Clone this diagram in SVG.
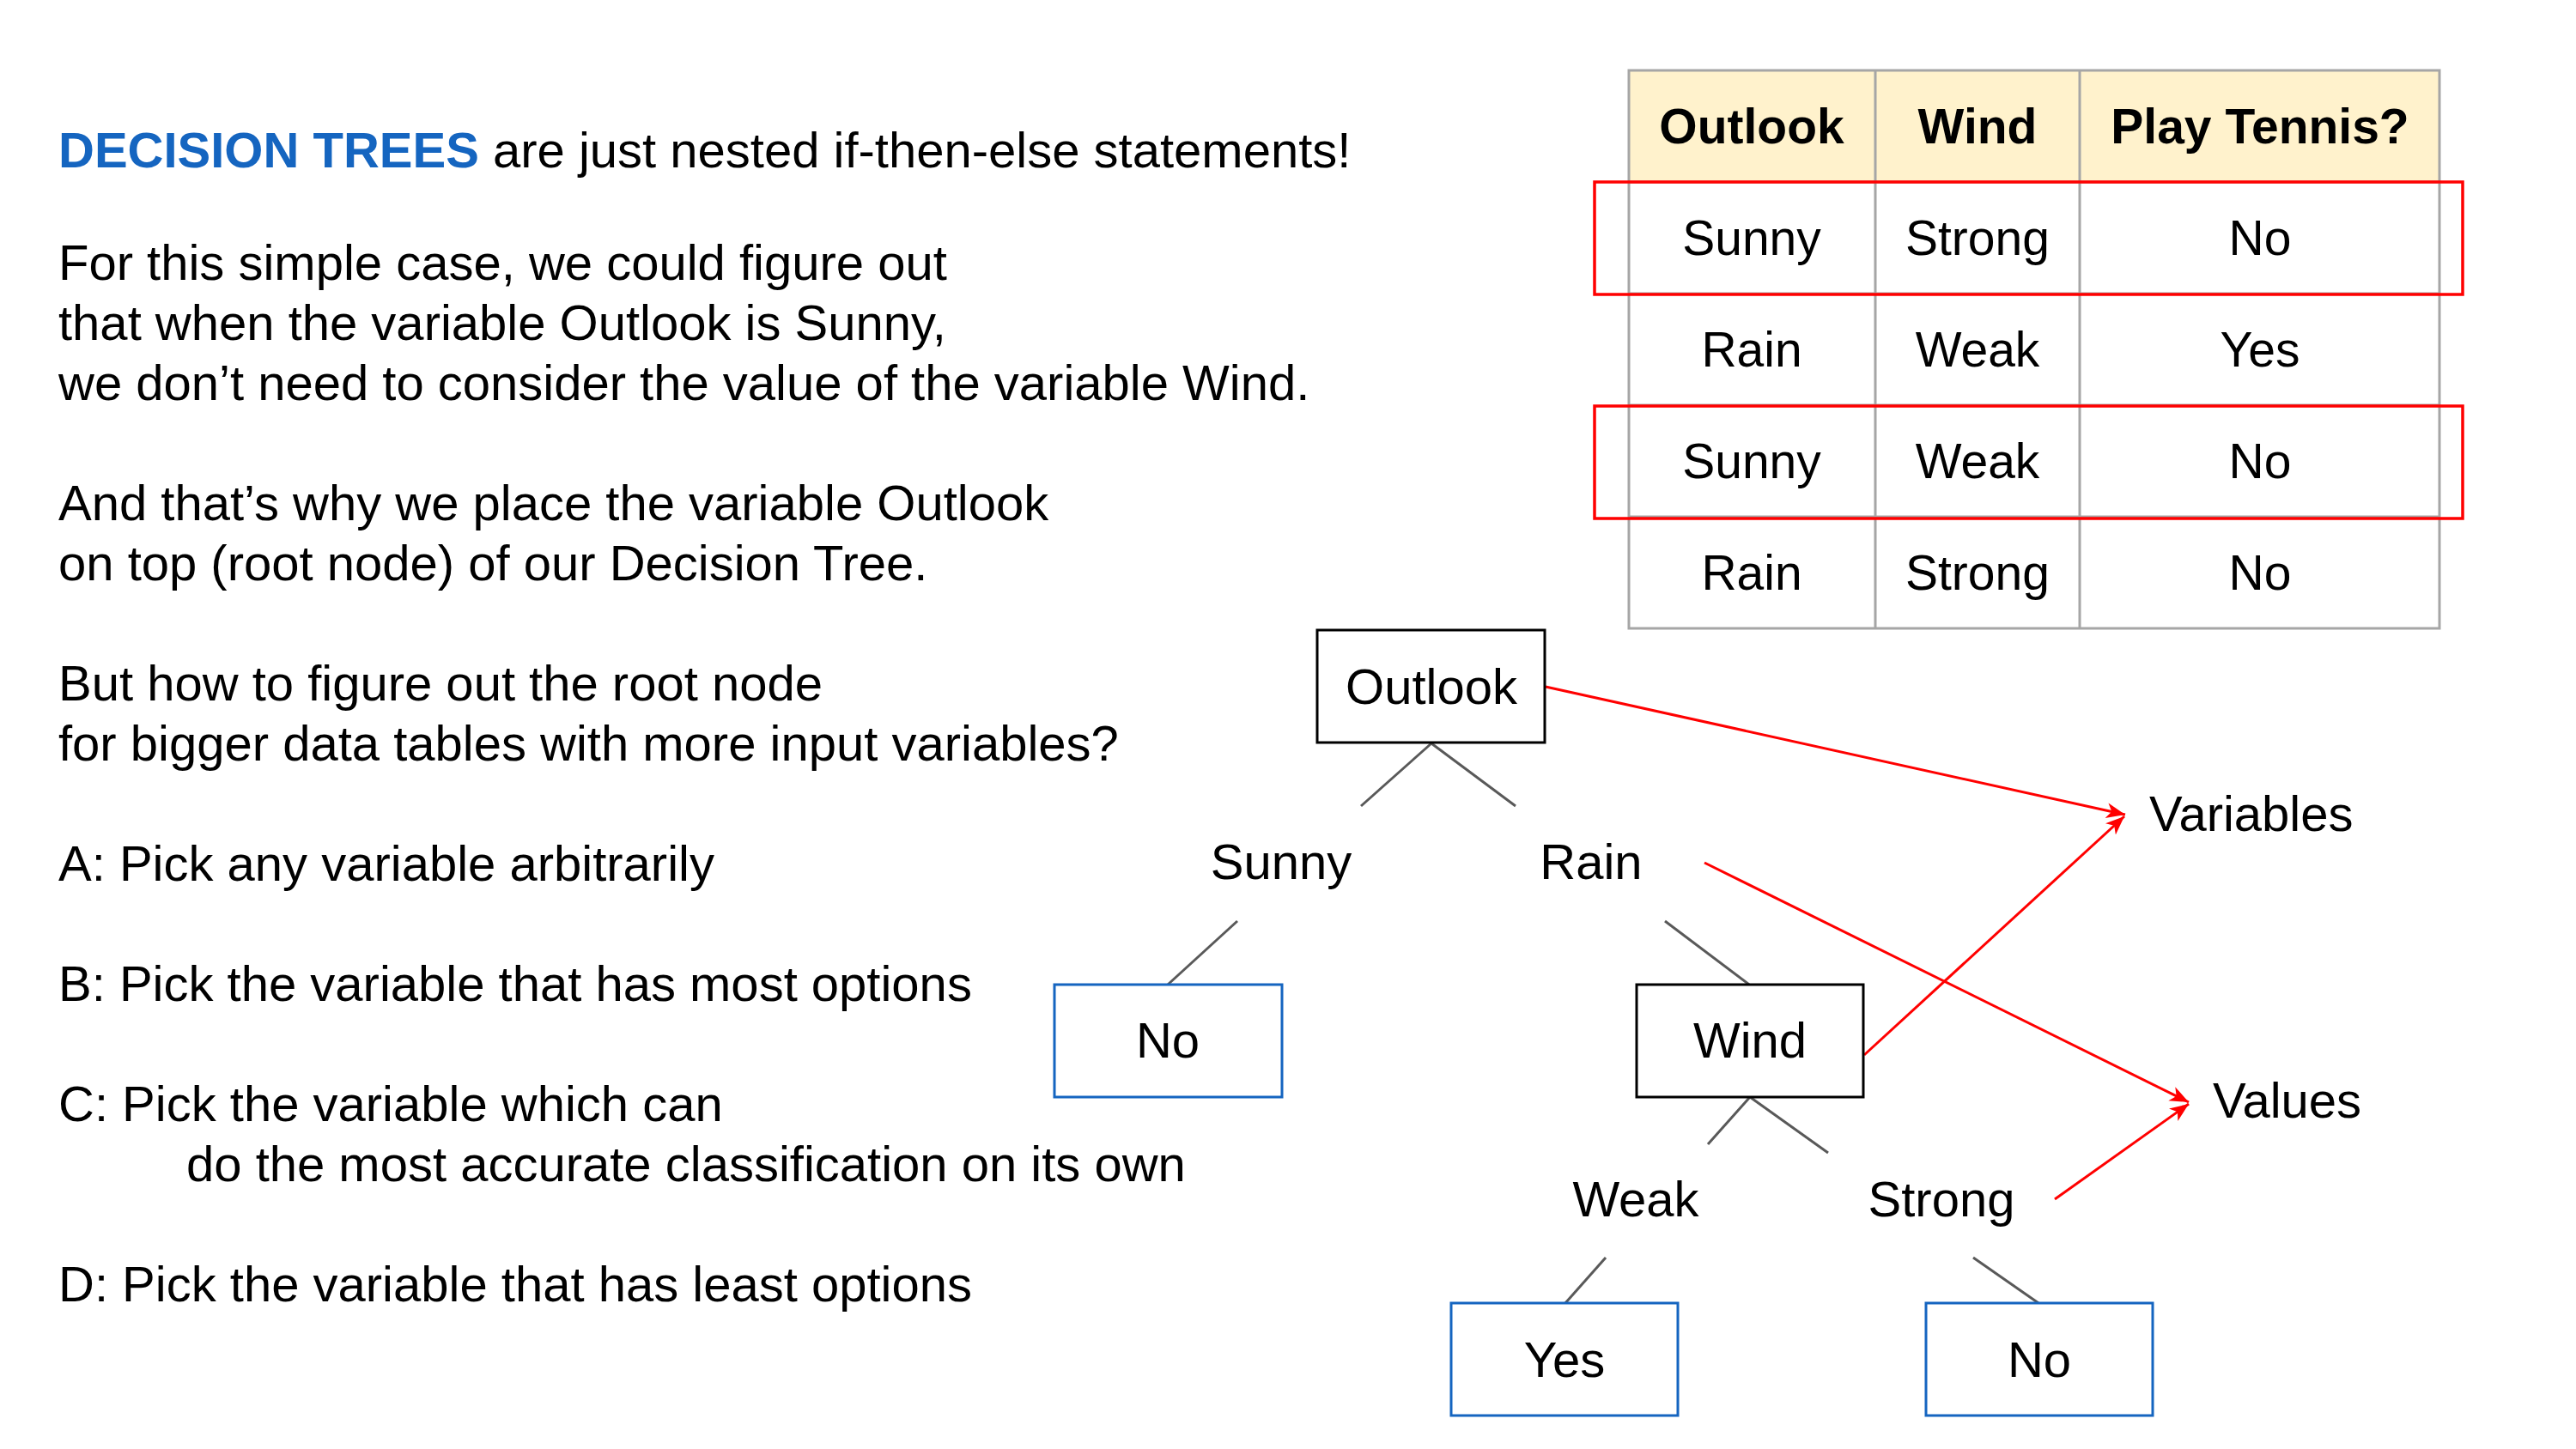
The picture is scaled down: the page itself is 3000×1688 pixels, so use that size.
<svg xmlns="http://www.w3.org/2000/svg" width="3000" height="1688" viewBox="0 0 3000 1688">
<style>
text{font-family:"Liberation Sans",Arial,sans-serif;fill:#000}
.body{font-size:58px}
.tb{font-size:57px;text-anchor:middle}
.th{font-size:57px;font-weight:bold;text-anchor:middle}
.lbl{font-size:58px;text-anchor:middle}
.blk{fill:#fff;stroke:#000;stroke-width:3}
.leaf{fill:#fff;stroke:#1565c0;stroke-width:3}
.edge{stroke:#595959;stroke-width:3;fill:none}
.red{stroke:#ff0000;stroke-width:3;fill:none}
.grid{stroke:#a6a6a6;stroke-width:3;fill:none}
.hl{stroke:#ff0000;stroke-width:3.5;fill:none}
</style>
<defs>
<marker id="ah" markerUnits="userSpaceOnUse" markerWidth="24" markerHeight="20" refX="22" refY="9" orient="auto">
<path d="M0,0 L22,9 L0,18 L6,9 z" fill="#ff0000"/>
</marker>
</defs>
<rect width="3000" height="1688" fill="#fff"/>

<g id="intro-text" class="body">
<text x="68" y="195"><tspan font-weight="bold" fill="#1565c0">DECISION TREES</tspan> are just nested if-then-else statements!</text>
<text x="68" y="326">For this simple case, we could figure out</text>
<text x="68" y="396">that when the variable Outlook is Sunny,</text>
<text x="68" y="466">we don’t need to consider the value of the variable Wind.</text>
<text x="68" y="606">And that’s why we place the variable Outlook</text>
<text x="68" y="676">on top (root node) of our Decision Tree.</text>
<text x="68" y="816">But how to figure out the root node</text>
<text x="68" y="886">for bigger data tables with more input variables?</text>
<text x="68" y="1026">A: Pick any variable arbitrarily</text>
<text x="68" y="1166">B: Pick the variable that has most options</text>
<text x="68" y="1306">C: Pick the variable which can</text>
<text x="217" y="1376">do the most accurate classification on its own</text>
<text x="68" y="1516">D: Pick the variable that has least options</text>
</g>

<g id="table">
<rect x="1897" y="82" width="944" height="130" fill="#fff2cc"/>
<rect x="1897" y="82" width="944" height="650" class="grid"/>
<line x1="2184" y1="82" x2="2184" y2="732" class="grid"/>
<line x1="2422" y1="82" x2="2422" y2="732" class="grid"/>
<line x1="1897" y1="212" x2="2841" y2="212" class="grid"/>
<line x1="1897" y1="342" x2="2841" y2="342" class="grid"/>
<line x1="1897" y1="472" x2="2841" y2="472" class="grid"/>
<line x1="1897" y1="602" x2="2841" y2="602" class="grid"/>
<text x="2040" y="167" class="th">Outlook</text>
<text x="2303" y="167" class="th">Wind</text>
<text x="2632" y="167" class="th">Play Tennis?</text>
<text x="2040" y="297" class="tb">Sunny</text>
<text x="2303" y="297" class="tb">Strong</text>
<text x="2632" y="297" class="tb">No</text>
<text x="2040" y="427" class="tb">Rain</text>
<text x="2303" y="427" class="tb">Weak</text>
<text x="2632" y="427" class="tb">Yes</text>
<text x="2040" y="557" class="tb">Sunny</text>
<text x="2303" y="557" class="tb">Weak</text>
<text x="2632" y="557" class="tb">No</text>
<text x="2040" y="687" class="tb">Rain</text>
<text x="2303" y="687" class="tb">Strong</text>
<text x="2632" y="687" class="tb">No</text>
<rect x="1857" y="212" width="1011" height="131" class="hl"/>
<rect x="1857" y="473" width="1011" height="131" class="hl"/>
</g>

<g id="connectors">
<line x1="1667" y1="866" x2="1585" y2="939" class="edge"/>
<line x1="1667" y1="866" x2="1765" y2="939" class="edge"/>
<line x1="1441" y1="1073" x2="1360" y2="1147" class="edge"/>
<line x1="1939" y1="1073" x2="2037" y2="1147" class="edge"/>
<line x1="2038" y1="1278" x2="1989" y2="1333" class="edge"/>
<line x1="2038" y1="1278" x2="2129" y2="1343" class="edge"/>
<line x1="1870" y1="1465" x2="1823" y2="1518" class="edge"/>
<line x1="2298" y1="1465" x2="2374" y2="1518" class="edge"/>
<line x1="1800" y1="800" x2="2475" y2="949" class="red" marker-end="url(#ah)"/>
<line x1="2171" y1="1229" x2="2474" y2="951" class="red" marker-end="url(#ah)"/>
<line x1="1985" y1="1005" x2="2549" y2="1284" class="red" marker-end="url(#ah)"/>
<line x1="2393" y1="1397" x2="2549" y2="1286" class="red" marker-end="url(#ah)"/>
</g>

<g id="node-outlook">
<rect x="1534" y="734" width="265" height="131" class="blk"/>
<text x="1667" y="820" class="lbl">Outlook</text>
</g>
<g id="label-sunny"><text x="1492" y="1024" class="lbl">Sunny</text></g>
<g id="label-rain"><text x="1853" y="1024" class="lbl">Rain</text></g>
<g id="node-no-left">
<rect x="1228" y="1147" width="265" height="131" class="leaf"/>
<text x="1360" y="1232" class="lbl">No</text>
</g>
<g id="node-wind">
<rect x="1906" y="1147" width="264" height="131" class="blk"/>
<text x="2038" y="1232" class="lbl">Wind</text>
</g>
<g id="label-weak"><text x="1905" y="1417" class="lbl">Weak</text></g>
<g id="label-strong"><text x="2261" y="1417" class="lbl">Strong</text></g>
<g id="node-yes">
<rect x="1690" y="1518" width="264" height="131" class="leaf"/>
<text x="1822" y="1604" class="lbl">Yes</text>
</g>
<g id="node-no-right">
<rect x="2243" y="1518" width="264" height="131" class="leaf"/>
<text x="2375" y="1604" class="lbl">No</text>
</g>
<g id="label-variables"><text x="2503" y="968" class="body">Variables</text></g>
<g id="label-values"><text x="2577" y="1302" class="body">Values</text></g>
</svg>
